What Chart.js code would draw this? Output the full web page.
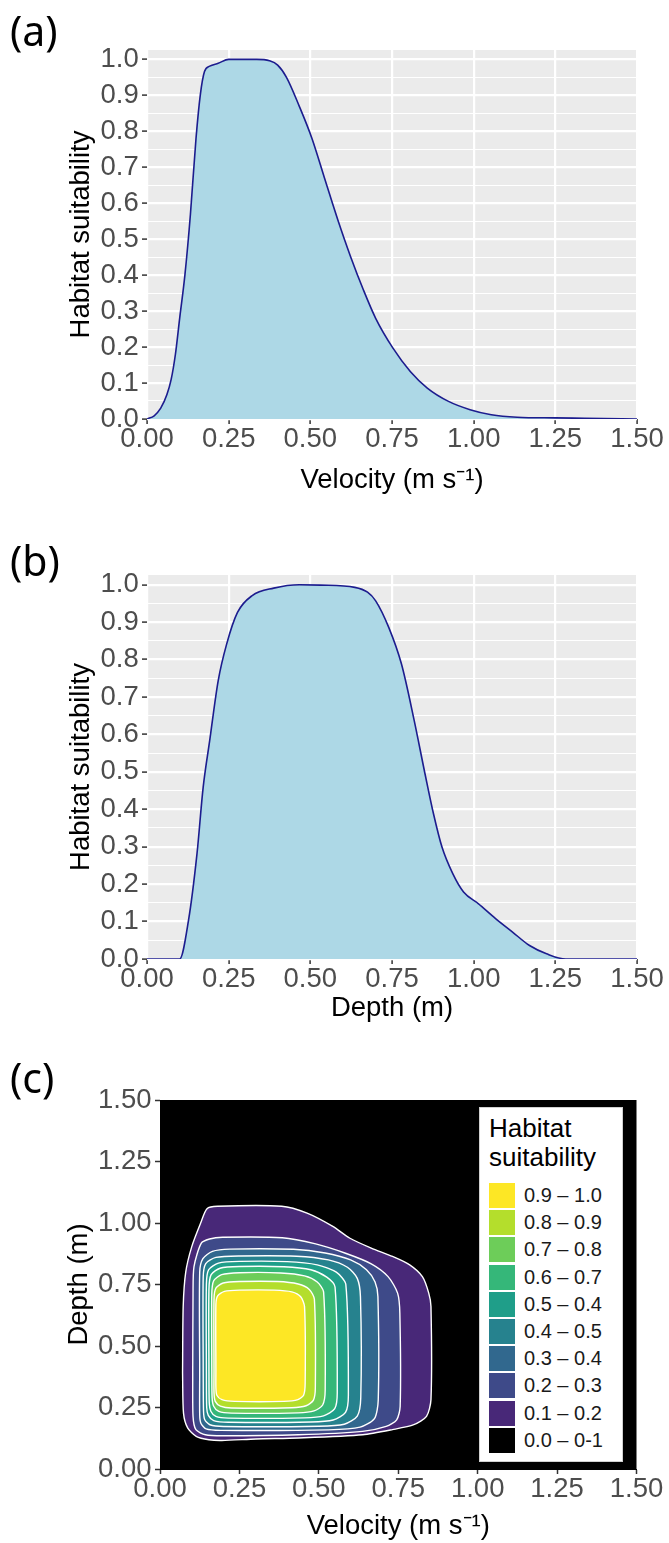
<!DOCTYPE html>
<html><head><meta charset="utf-8">
<script src="https://cdn.jsdelivr.net/npm/chart.js@4.4.1/dist/chart.umd.min.js"></script>
<style>
html,body{margin:0;padding:0;background:#fff;}
#wrap{position:relative;width:669px;height:1543px;overflow:hidden;background:#fff;}
canvas{position:absolute;left:0;}
.tag{position:absolute;left:10px;font-family:'Noto Sans',sans-serif;font-size:41px;line-height:1;color:#000;}
#legend{position:absolute;left:479px;top:1107px;width:142px;height:353px;background:#fff;border:1px solid #d0d0d0;font-family:'Liberation Sans',Arial,sans-serif;}
#legend .ttl{position:absolute;left:9px;top:6px;font-size:26px;line-height:29px;color:#000;}
#legend .key{position:absolute;left:9px;width:26px;height:25px;}
#legend .lab{position:absolute;left:44px;height:25px;line-height:25px;font-size:20px;color:#1a1a1a;white-space:nowrap;}
</style></head>
<body>
<div id="wrap">
  <canvas id="ca" width="669" height="510" style="top:0px"></canvas>
  <canvas id="cb" width="669" height="510" style="top:520px"></canvas>
  <canvas id="cc" width="669" height="503" style="top:1040px"></canvas>
  <div class="tag" style="top:10px">(a)</div>
  <div class="tag" style="top:540px">(b)</div>
  <div class="tag" style="top:1057px">(c)</div>
  <div id="legend"></div>
</div>
<script>
// ---------------- data ----------------
const velX   = [0, 0.022, 0.042, 0.061, 0.074, 0.087, 0.10, 0.116, 0.133, 0.150, 0.163, 0.176, 0.192, 0.218, 0.25, 0.336, 0.375, 0.40, 0.427, 0.466, 0.505, 0.545, 0.584, 0.623, 0.662, 0.70, 0.753, 0.806, 0.858, 0.923, 0.989, 1.054, 1.133, 1.25, 1.34, 1.5];
const velHSI = [0, 0.009, 0.03, 0.068, 0.11, 0.18, 0.28, 0.40, 0.57, 0.78, 0.90, 0.966, 0.981, 0.989, 1.0, 1.0, 0.996, 0.984, 0.95, 0.87, 0.78, 0.665, 0.554, 0.452, 0.36, 0.28, 0.197, 0.132, 0.086, 0.049, 0.026, 0.012, 0.005, 0.003, 0.002, 0];

const depX   = [0, 0.10, 0.127, 0.153, 0.172, 0.192, 0.218, 0.244, 0.277, 0.322, 0.388, 0.466, 0.531, 0.636, 0.675, 0.70, 0.74, 0.779, 0.818, 0.851, 0.877, 0.903, 0.936, 0.969, 1.014, 1.067, 1.119, 1.171, 1.223, 1.282, 1.5];
const depHSI = [0, 0, 0.103, 0.281, 0.459, 0.584, 0.744, 0.842, 0.926, 0.971, 0.991, 1.0, 0.999, 0.993, 0.98, 0.957, 0.886, 0.788, 0.637, 0.495, 0.388, 0.299, 0.228, 0.179, 0.148, 0.108, 0.072, 0.036, 0.014, 0, 0];

const axisTicks      = [0, 0.25, 0.5, 0.75, 1.0, 1.25, 1.5];
const axisTickLabels = ['0.00', '0.25', '0.50', '0.75', '1.00', '1.25', '1.50'];
const hsiTicks       = [0, 0.1, 0.2, 0.3, 0.4, 0.5, 0.6, 0.7, 0.8, 0.9, 1.0];
const hsiTickLabels  = ['0.0', '0.1', '0.2', '0.3', '0.4', '0.5', '0.6', '0.7', '0.8', '0.9', '1.0'];
const hsiMinorTicks  = [0.05, 0.15, 0.25, 0.35, 0.45, 0.55, 0.65, 0.75, 0.85, 0.95];

// contour polygons [velocity, depth], outer (0.1) to inner (0.9)
const contour01 = [[0.071,0.39],[0.073,0.66],[0.081,0.80],[0.10,0.904],[0.128,1.0],[0.148,1.058],[0.181,1.068],[0.383,1.068],[0.463,1.040],[0.544,0.986],[0.598,0.938],[0.665,0.898],[0.732,0.864],[0.786,0.830],[0.826,0.782],[0.846,0.715],[0.853,0.661],[0.853,0.282],[0.839,0.214],[0.799,0.180],[0.732,0.160],[0.638,0.139],[0.436,0.126],[0.302,0.122],[0.195,0.116],[0.154,0.119],[0.114,0.133],[0.087,0.167],[0.074,0.227]];
const contour02 = [[0.103,0.39],[0.104,0.715],[0.107,0.823],[0.130,0.918],[0.156,0.935],[0.197,0.942],[0.385,0.940],[0.49,0.915],[0.584,0.877],[0.665,0.834],[0.718,0.782],[0.748,0.715],[0.755,0.634],[0.756,0.254],[0.745,0.200],[0.712,0.173],[0.638,0.153],[0.436,0.139],[0.197,0.135],[0.143,0.139],[0.113,0.160],[0.104,0.214]];
const contour03 = [[0.125,0.40],[0.125,0.80],[0.135,0.855],[0.165,0.885],[0.22,0.894],[0.42,0.893],[0.52,0.878],[0.60,0.85],[0.65,0.81],[0.677,0.76],[0.686,0.70],[0.687,0.28],[0.675,0.205],[0.63,0.17],[0.53,0.159],[0.19,0.157],[0.145,0.163],[0.129,0.185],[0.125,0.22]];
const contour04 = [[0.136,0.40],[0.136,0.78],[0.144,0.835],[0.176,0.86],[0.25,0.866],[0.43,0.865],[0.53,0.85],[0.59,0.82],[0.621,0.775],[0.631,0.70],[0.632,0.29],[0.621,0.215],[0.58,0.182],[0.50,0.174],[0.20,0.173],[0.157,0.18],[0.141,0.20],[0.137,0.235]];
const contour05 = [[0.146,0.40],[0.146,0.75],[0.153,0.81],[0.184,0.837],[0.25,0.844],[0.40,0.843],[0.495,0.83],[0.555,0.80],[0.585,0.75],[0.593,0.30],[0.584,0.23],[0.545,0.199],[0.475,0.191],[0.215,0.190],[0.169,0.197],[0.152,0.218],[0.147,0.25]];
const contour06 = [[0.154,0.40],[0.154,0.73],[0.161,0.79],[0.189,0.816],[0.25,0.823],[0.39,0.822],[0.475,0.81],[0.525,0.78],[0.551,0.74],[0.558,0.31],[0.55,0.245],[0.515,0.216],[0.455,0.208],[0.215,0.207],[0.176,0.214],[0.16,0.235],[0.155,0.27]];
const contour07 = [[0.163,0.40],[0.163,0.71],[0.169,0.765],[0.194,0.79],[0.25,0.798],[0.38,0.797],[0.455,0.785],[0.495,0.76],[0.515,0.72],[0.520,0.32],[0.512,0.26],[0.485,0.236],[0.435,0.228],[0.225,0.227],[0.185,0.234],[0.169,0.255],[0.164,0.29]];
const contour08 = [[0.170,0.40],[0.170,0.69],[0.176,0.735],[0.199,0.756],[0.25,0.762],[0.37,0.762],[0.435,0.752],[0.47,0.73],[0.486,0.69],[0.489,0.33],[0.483,0.28],[0.46,0.257],[0.415,0.249],[0.225,0.248],[0.19,0.256],[0.174,0.275],[0.170,0.31]];
const contour09 = [[0.176,0.40],[0.176,0.67],[0.182,0.705],[0.203,0.722],[0.25,0.727],[0.36,0.727],[0.415,0.72],[0.443,0.70],[0.455,0.66],[0.457,0.35],[0.452,0.30],[0.434,0.282],[0.39,0.275],[0.235,0.275],[0.195,0.282],[0.179,0.30],[0.176,0.33]];
const contourLevels = [contour01, contour02, contour03, contour04, contour05, contour06, contour07, contour08, contour09];
const contourColors = ['#482878', '#3E4A89', '#31688E', '#26828E', '#1F9E89', '#35B779', '#6DCD59', '#B4DE2C', '#FDE725'];

const legendLabels = ['0.9 – 1.0', '0.8 – 0.9', '0.7 – 0.8', '0.6 – 0.7', '0.5 – 0.4', '0.4 – 0.5', '0.3 – 0.4', '0.2 – 0.3', '0.1 – 0.2', '0.0 – 0-1'];
const legendColors = ['#FDE725', '#B4DE2C', '#6DCD59', '#35B779', '#1F9E89', '#26828E', '#31688E', '#3E4A89', '#482878', '#000000'];

// ---------------- helpers ----------------
Chart.defaults.font.family = "'Liberation Sans', Arial, sans-serif";
const FS = 27.5;
function labelFor(vals, labels, v) {
  for (let i = 0; i < vals.length; i++) if (Math.abs(vals[i] - v) < 1e-6) return labels[i];
  return '';
}
function isIn(vals, v) { return vals.some(t => Math.abs(t - v) < 1e-6); }
const panelBg = {
  id: 'panelBg',
  beforeDraw(chart, args, opts) {
    const {ctx, chartArea: a} = chart;
    ctx.save(); ctx.fillStyle = opts.color;
    ctx.fillRect(a.left, a.top, a.right - a.left, a.bottom - a.top);
    ctx.restore();
  }
};
const common = {
  responsive: false, animation: false, events: [],
  plugins: { legend: { display: false }, tooltip: { enabled: false } }
};

function curveChart(id, xs, ys, xTitle, g) {
  new Chart(document.getElementById(id), {
    type: 'scatter',
    data: { datasets: [{
      data: xs.map((x, i) => ({ x: x, y: ys[i] })),
      showLine: true, borderColor: '#1c1c8e', borderWidth: 1.6,
      backgroundColor: '#ADD8E6', fill: 'origin', pointRadius: 0,
      cubicInterpolationMode: 'monotone'
    }]},
    plugins: [panelBg],
    options: Object.assign({}, common, {
      layout: { padding: { top: g.top, right: 32, left: 0, bottom: 0 } },
      plugins: Object.assign({}, common.plugins, { panelBg: { color: '#EBEBEB' } }),
      scales: {
        x: {
          type: 'linear', min: 0, max: 1.5,
          afterBuildTicks: s => { s.ticks = axisTicks.map(v => ({ value: v })); },
          afterFit: s => { s.height = g.xH; },
          ticks: { autoSkip: false, maxRotation: 0, padding: -1, color: '#4D4D4D', font: { size: FS },
                   callback: v => labelFor(axisTicks, axisTickLabels, v) },
          grid: { color: '#FFFFFF', lineWidth: 2.2, tickColor: '#333333', tickLength: 5, tickWidth: 1.5 },
          border: { display: false },
          title: { display: true, text: xTitle, color: '#000', font: { size: FS }, padding: { top: 0, bottom: g.xTitlePad } }
        },
        y: {
          type: 'linear', min: 0, max: 1.026,
          afterBuildTicks: s => { s.ticks = hsiTicks.concat(hsiMinorTicks).sort((a, b) => a - b).map(v => ({ value: v })); },
          afterFit: s => { s.width = 147; },
          ticks: { autoSkip: false, padding: 3.3, color: '#4D4D4D', font: { size: FS },
                   callback: v => labelFor(hsiTicks, hsiTickLabels, v) },
          grid: {
            color: '#FFFFFF',
            lineWidth: c => (c.tick && isIn(hsiTicks, c.tick.value)) ? 2.2 : 1.1,
            tickColor: c => (c.tick && isIn(hsiTicks, c.tick.value)) ? '#333333' : 'rgba(0,0,0,0)',
            tickLength: 5, tickWidth: 1.5
          },
          border: { display: false },
          title: { display: true, text: 'Habitat suitability', color: '#000', font: { size: FS }, padding: { top: 64.5, bottom: 0 } }
        }
      }
    })
  });
}

curveChart('ca', velX, velHSI, 'Velocity (m s⁻¹)', { top: 50, xH: 91, xTitlePad: 13.5 });
curveChart('cb', depX, depHSI, 'Depth (m)', { top: 55, xH: 71, xTitlePad: 5.5 });

// ---------------- panel (c) ----------------
new Chart(document.getElementById('cc'), {
  type: 'scatter',
  data: { datasets: contourLevels.map((pts, i) => ({
    data: pts.concat([pts[0]]).map(p => ({ x: p[0], y: p[1] })),
    showLine: true, fill: 'shape', backgroundColor: contourColors[i],
    borderColor: '#FFFFFF', borderWidth: 1.4, pointRadius: 0, tension: 0.25,
    order: contourLevels.length - i
  }))},
  plugins: [panelBg],
  options: Object.assign({}, common, {
    layout: { padding: { top: 60, right: 32.5, left: 0, bottom: 0 } },
    plugins: Object.assign({}, common.plugins, { panelBg: { color: '#000000' } }),
    scales: {
      x: {
        type: 'linear', min: 0, max: 1.5,
        afterBuildTicks: s => { s.ticks = axisTicks.map(v => ({ value: v })); },
        afterFit: s => { s.height = 74; },
        ticks: { autoSkip: false, maxRotation: 0, padding: -1, color: '#4D4D4D', font: { size: FS },
                 callback: v => labelFor(axisTicks, axisTickLabels, v) },
        grid: { color: 'rgba(0,0,0,0)', tickColor: '#333333', tickLength: 5, tickWidth: 1.5 },
        border: { display: true, color: '#000', width: 1 },
        title: { display: true, text: 'Velocity (m s⁻¹)', color: '#000', font: { size: FS }, padding: { top: 0, bottom: 0 } }
      },
      y: {
        type: 'linear', min: 0, max: 1.5,
        afterBuildTicks: s => { s.ticks = axisTicks.map(v => ({ value: v })); },
        afterFit: s => { s.width = 160; },
        ticks: { autoSkip: false, padding: 3.5, color: '#4D4D4D', font: { size: FS },
                 callback: v => labelFor(axisTicks, axisTickLabels, v) },
        grid: { color: 'rgba(0,0,0,0)', tickColor: '#333333', tickLength: 5, tickWidth: 1.5 },
        border: { display: true, color: '#000', width: 1 },
        title: { display: true, text: 'Depth (m)', color: '#000', font: { size: FS }, padding: { top: 62.5, bottom: 0 } }
      }
    }
  })
});

// legend for panel (c)
(function () {
  const lg = document.getElementById('legend');
  let html = '<div class="ttl">Habitat<br>suitability</div>';
  legendLabels.forEach((t, i) => {
    const top = 75 + i * 27.2;
    html += '<div class="key" style="top:' + top + 'px;background:' + legendColors[i] + '"></div>';
    html += '<div class="lab" style="top:' + top + 'px">' + t + '</div>';
  });
  lg.innerHTML = html;
})();
</script>
</body></html>
